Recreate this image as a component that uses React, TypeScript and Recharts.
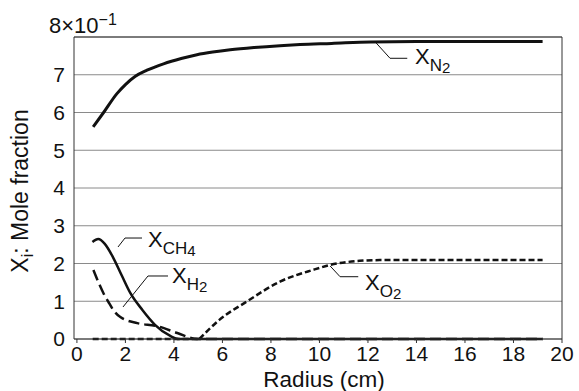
import React from 'react';
import { LineChart, Line, XAxis, YAxis, CartesianGrid, ReferenceLine, ReferenceDot, Label } from 'recharts';

// radius (cm) and mole fraction (x10^-1)
const n2Radius = [0.67, 1.1, 1.65, 2.0, 2.41, 2.89, 3.57, 4.3, 4.95, 5.6, 6.32, 7.3, 8.37, 9.2, 10.5, 12.1, 14, 19.2];
const n2Frac = [5.62, 6.0, 6.5, 6.74, 6.96, 7.12, 7.29, 7.43, 7.53, 7.6, 7.66, 7.72, 7.77, 7.8, 7.83, 7.87, 7.88, 7.88];

const ch4Radius = [0.64, 0.88, 1.15, 1.5, 1.85, 2.2, 2.7, 3.23, 3.85, 4.2, 5.0, 19.2];
const ch4Frac = [2.57, 2.65, 2.52, 2.15, 1.68, 1.22, 0.77, 0.37, 0.08, 0.0, 0.0, 0.0];

const h2Radius = [0.68, 1.09, 1.3, 1.5, 1.79, 2.49, 3.31, 4.14, 4.96, 19.2];
const h2Frac = [1.83, 1.22, 0.98, 0.77, 0.58, 0.42, 0.34, 0.16, 0.0, 0.0];

const o2LowRadius = [0.65, 5.05];
const o2LowFrac = [0, 0];
const o2Radius = [5.05, 5.86, 7.0, 8.37, 9.73, 10.43, 11.66, 12.49, 19.2];
const o2Frac = [0, 0.5, 0.99, 1.52, 1.83, 1.96, 2.07, 2.09, 2.09];

const xTicks = [0, 2, 4, 6, 8, 10, 12, 14, 16, 18, 20];
const yTicks = [0, 1, 2, 3, 4, 5, 6, 7, 8];

const pts = (r: number[], v: number[]) => r.map((x, i) => ({ r: x, v: v[i] }));

const n2Data = pts(n2Radius, n2Frac);
const ch4Data = pts(ch4Radius, ch4Frac);
const h2Data = pts(h2Radius, h2Frac);
const o2LowData = pts(o2LowRadius, o2LowFrac);
const o2Data = pts(o2Radius, o2Frac);

const FONT = '"Liberation Sans", Arial, Helvetica, sans-serif';
const INK = '#111';

// species labels with leader lines, in data coordinates
const labels = [
  { name: 'N', n: '2', lead: [[12.29, 7.876], [12.91, 7.436], [13.62, 7.436]], at: [13.94, 7.285] },
  { name: 'CH', n: '4', lead: [[1.694, 2.437], [1.983, 2.675], [2.684, 2.675]], at: [2.93, 2.437] },
  { name: 'H', n: '2', lead: [[1.9, 0.848], [2.93, 1.669], [3.756, 1.669]], at: [3.92, 1.483] },
  { name: 'O', n: '2', lead: [[10.44, 1.934], [10.85, 1.65], [11.6, 1.65]], at: [11.88, 1.298] },
];

const YTick = (props: any) => {
  const { x, y, payload } = props;
  if (payload.value === 8) {
    return (
      <text x={49} y={33} fontSize={22} fontFamily={FONT} fill={INK}>
        8×10<tspan dy={-8} fontSize={16}>−1</tspan>
      </text>
    );
  }
  return (
    <text x={x} y={y} dy="0.355em" textAnchor="end" fontSize={21} fontFamily={FONT} fill={INK}>
      {payload.value}
    </text>
  );
};

export default function App() {
  return (
    <div style={{ position: 'absolute', left: 0, top: 0, background: '#fff' }}>
      <LineChart width={579} height={391} margin={{ top: 37, right: 17, bottom: 0, left: 0 }} style={{ fontFamily: FONT }}>
        <CartesianGrid vertical={false} stroke="#8a8a8a" strokeWidth={1} />
        <XAxis
          type="number"
          dataKey="r"
          domain={[-0.12, 20]}
          allowDataOverflow
          ticks={xTicks}
          height={52}
          stroke="#333"
          tickSize={4}
          tickMargin={3}
          tick={{ fontSize: 21, fill: INK, fontFamily: FONT }}
        >
          <Label
            content={({ viewBox }: any) => (
              <text x={viewBox.x + viewBox.width / 2 + 6} y={viewBox.y + 48} textAnchor="middle" fontSize={22.5} fontFamily={FONT} fill={INK}>
                Radius (cm)
              </text>
            )}
          />
        </XAxis>
        <YAxis
          type="number"
          dataKey="v"
          domain={[0, 8]}
          ticks={yTicks}
          width={74}
          stroke="#333"
          tickLine={false}
          tickSize={0}
          tickMargin={9}
          tick={<YTick />}
        >
          <Label
            content={({ viewBox }: any) => {
              const cx = 28;
              const cy = viewBox.y + viewBox.height / 2 + 3;
              return (
                <text x={cx} y={cy} transform={`rotate(-90 ${cx} ${cy})`} textAnchor="middle" fontSize={23} fontFamily={FONT} fill={INK}>
                  X<tspan dy={5} fontSize={16}>i</tspan>
                  <tspan dy={-5}>: Mole fraction</tspan>
                </text>
              );
            }}
          />
        </YAxis>
        <ReferenceLine y={8} stroke="#333" strokeWidth={1} />
        <ReferenceLine x={20} stroke="#333" strokeWidth={1} />

        {labels.map((lb) => [
          <ReferenceLine
            key={lb.name + 'a'}
            segment={[{ x: lb.lead[0][0], y: lb.lead[0][1] }, { x: lb.lead[1][0], y: lb.lead[1][1] }]}
            stroke={INK}
            strokeWidth={1}
            ifOverflow="visible"
          />,
          <ReferenceLine
            key={lb.name + 'b'}
            segment={[{ x: lb.lead[1][0], y: lb.lead[1][1] }, { x: lb.lead[2][0], y: lb.lead[2][1] }]}
            stroke={INK}
            strokeWidth={1}
            ifOverflow="visible"
          />,
          <ReferenceDot
            key={lb.name + 't'}
            x={lb.at[0]}
            y={lb.at[1]}
            r={0}
            ifOverflow="visible"
            shape={(p: any) => (
              <text x={p.cx} y={p.cy} fontSize={22} fontFamily={FONT} fill={INK}>
                X<tspan dy={7} fontSize={17}>{lb.name}</tspan>
                <tspan dy={2} fontSize={15}>{lb.n}</tspan>
              </text>
            )}
          />,
        ])}

        <Line data={o2LowData} dataKey="v" type="linear" stroke={INK} strokeWidth={2.5} strokeDasharray="6 3" dot={false} isAnimationActive={false} />
        <Line data={o2Data} dataKey="v" type="monotone" stroke={INK} strokeWidth={2.5} strokeDasharray="6 3" dot={false} isAnimationActive={false} />
        <Line data={h2Data} dataKey="v" type="monotone" stroke={INK} strokeWidth={2.5} strokeDasharray="11 5" dot={false} isAnimationActive={false} />
        <Line data={ch4Data} dataKey="v" type="monotone" stroke={INK} strokeWidth={2.5} dot={false} isAnimationActive={false} />
        <Line data={n2Data} dataKey="v" type="monotone" stroke={INK} strokeWidth={3} dot={false} isAnimationActive={false} />
      </LineChart>
    </div>
  );
}
